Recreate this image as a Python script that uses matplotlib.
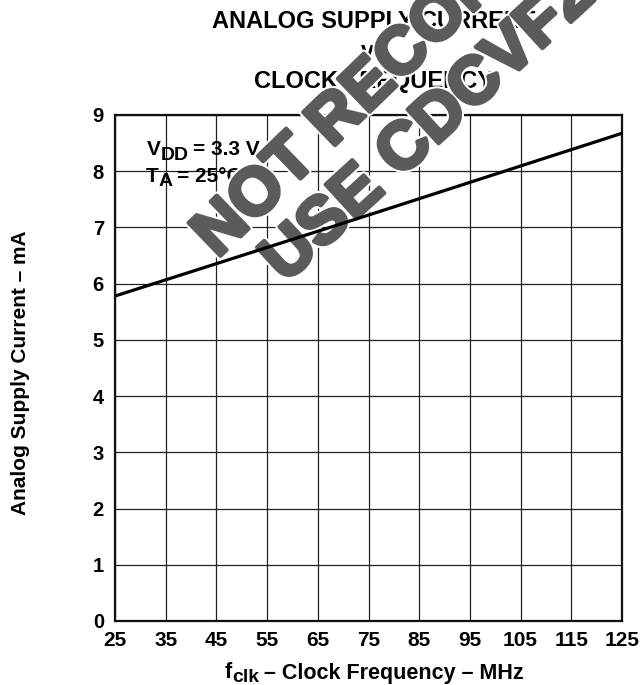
import matplotlib
matplotlib.use("Agg")
import matplotlib.pyplot as plt
import matplotlib.patheffects as pe

# values
freq_mhz = [25, 75, 125]
supply_ma = [5.78, 7.22, 8.675]

x_ticks = [25, 35, 45, 55, 65, 75, 85, 95, 105, 115, 125]
y_ticks = [0, 1, 2, 3, 4, 5, 6, 7, 8, 9]

title_lines = ["ANALOG SUPPLY CURRENT", "vs", "CLOCK FREQUENCY"]
watermark_1 = "NOT RECOMMENDED FOR NEW DESIGNS"
watermark_2 = "USE CDCVF2510A AS A REPLACEMENT"

plt.rcParams['font.family'] = ['Liberation Sans', 'DejaVu Sans']
plt.rcParams['font.weight'] = 'bold'

W, H = 644, 685
fig = plt.figure(figsize=(W / 100, H / 100), dpi=100)
ax = fig.add_axes([115 / W, 1 - 621 / H, 507 / W, 506 / H])
renderer = fig.canvas.get_renderer()


def runs_text(x_px, y_px, runs, ha='left', on_ax=True, zorder=3):
    # lay out pieces of text one after another (for large subscripts)
    # runs: (text, fontsize, baseline shift in px, gap before in px)
    parent = ax if on_ax else fig
    made = []
    cur = 0.0
    for txt, size, dy, gap in runs:
        cur += gap
        t = parent.text((x_px + cur) / W, 1 - (y_px + dy) / H, txt,
                        transform=fig.transFigure, fontsize=size,
                        fontweight='bold', ha='left', va='baseline',
                        zorder=zorder, clip_on=False)
        made.append((t, cur))
        cur += t.get_window_extent(renderer).width
    if ha == 'center':
        for t, off in made:
            x, y = t.get_position()
            t.set_x(x - cur / 2 / W)
    return made


ax.plot(freq_mhz, supply_ma, color='black', lw=2.3, zorder=4, solid_capstyle='butt')

ax.set_xlim(25, 125)
ax.set_ylim(0, 9)
ax.set_xticks(x_ticks)
ax.set_yticks(y_ticks)
ax.tick_params(axis='x', length=0, pad=7, labelsize=15)
ax.tick_params(axis='y', length=0, pad=8, labelsize=14.5)
for lab in ax.get_xticklabels() + ax.get_yticklabels():
    lab.set_fontweight('bold')
ax.grid(True, color='#222222', lw=0.9)
ax.set_axisbelow(True)
for s in ax.spines.values():
    s.set_linewidth(1.6)
    s.set_color('#111111')

# title (inside the axes so the watermark sits on top of it)
for i, line in enumerate(title_lines):
    ax.text(374 / W, 1 - (28 + 30 * i) / H, line, transform=fig.transFigure,
            ha='center', va='baseline', fontsize=17, fontweight='bold',
            clip_on=False, zorder=3)

runs_text(146.5, 155, [("V", 15, 0, 0), ("DD", 14, 4.5, 0), ("= 3.3 V", 15, 0, 5)])
runs_text(145.5, 181.5, [("T", 15, 0, 0), ("A", 14, 4.5, 0), ("= 25°C", 15, 0, 5)])

fig.text(21 / W, 1 - 373 / H, "Analog Supply Current – mA", rotation=90,
         ha='center', va='center', fontsize=15, fontweight='bold')
runs_text(374.5, 678.5, [("f", 15.5, 0, 0), ("clk", 14, 4, 0),
                         ("– Clock Frequency – MHz", 15.5, 0, 5)],
          ha='center', on_ax=False)

# watermark stamp
stroke = [pe.Stroke(linewidth=6, foreground='white'),
          pe.Stroke(linewidth=3, foreground='#5b5b5b'), pe.Normal()]
for txt, (px, py), ang in [(watermark_1, (217.3, 258.9), 44),
                           (watermark_2, (285.1, 283.9), 42.5)]:
    ax.text(px / W, 1 - py / H, txt, transform=fig.transFigure, rotation=ang,
            rotation_mode='anchor', ha='left', va='baseline', fontsize=48,
            fontweight='bold', color='#5b5b5b', clip_on=False, zorder=3.5,
            path_effects=stroke)

fig.savefig("out.png", dpi=100)
